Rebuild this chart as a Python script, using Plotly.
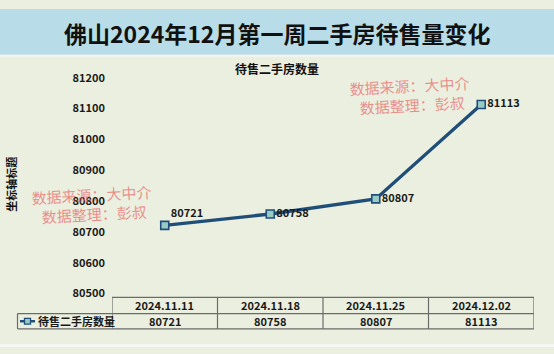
import plotly.graph_objects as go

# ---- data ----
categories = ["2024.11.11", "2024.11.18", "2024.11.25", "2024.12.02"]
values = [80721, 80758, 80807, 81113]
series_name = "待售二手房数量"
main_title = "佛山2024年12月第一周二手房待售量变化"
chart_title = "待售二手房数量"
y_axis_title = "坐标轴标题"
y_ticks = [80500, 80600, 80700, 80800, 80900, 81000, 81100, 81200]
watermark = "数据来源：大中介<br> 数据整理：彭叔"

W, H = 554, 354
CJK = "Noto Sans CJK SC, Noto Sans, sans-serif"
LINE = "#1f4e79"
BG = "#ebefdf"

x0, x1 = 112 / W, 534 / W
ytop, ybot = 72, 298
y_dom = [(H - ybot) / H, (H - ytop) / H]

def py(p):
    return (H - p) / H

fig = go.Figure()
fig.add_trace(go.Scatter(
    x=list(range(len(categories))), y=values,
    mode="lines+markers+text",
    text=[str(v) for v in values],
    textposition=["top right", "middle right", "middle right", "middle right"],
    textfont=dict(family=CJK, size=11, color="#1a1a1a", weight="bold"),
    line=dict(color=LINE, width=3.3),
    marker=dict(symbol="square", size=8, color="#98cbc6",
                line=dict(color=LINE, width=1.6)),
    name=series_name, showlegend=False, cliponaxis=False,
))

shapes = []
# title bar
shapes.append(dict(type="rect", xref="paper", yref="paper", x0=0, x1=1,
                   y0=py(48), y1=1, fillcolor="#b8dde8", line_width=0, layer="below"))
shapes.append(dict(type="rect", xref="paper", yref="paper", x0=0, x1=1,
                   y0=py(50), y1=py(48), fillcolor="#f4f4f4", line_width=0, layer="below"))
# bottom strip
shapes.append(dict(type="rect", xref="paper", yref="paper", x0=0, x1=1,
                   y0=0, y1=py(351), fillcolor="#f7f7f7", line_width=0, layer="below"))

# data table
t_top, t_mid, t_bot = 302, 319, 335
tc = "#6b6b6b"
n = len(categories)
shapes.append(dict(type="line", xref="x", yref="paper", x0=-0.5, x1=n - 0.5,
                   y0=py(t_top), y1=py(t_top), line=dict(color=tc, width=1.2)))
shapes.append(dict(type="line", xref="paper", yref="paper", x0=17.5 / W, x1=x1,
                   y0=py(t_mid), y1=py(t_mid), line=dict(color=tc, width=1.2)))
shapes.append(dict(type="line", xref="paper", yref="paper", x0=17.5 / W, x1=x1,
                   y0=py(t_bot), y1=py(t_bot), line=dict(color=tc, width=1.2)))
for i in range(n + 1):
    shapes.append(dict(type="line", xref="x", yref="paper", x0=i - 0.5, x1=i - 0.5,
                       y0=py(t_bot), y1=py(t_top), line=dict(color=tc, width=1.2)))
shapes.append(dict(type="line", xref="paper", yref="paper", x0=17.5 / W, x1=17.5 / W,
                   y0=py(t_bot), y1=py(t_mid), line=dict(color=tc, width=1.2)))
# legend key
shapes.append(dict(type="line", xref="paper", yref="paper", x0=20 / W, x1=35 / W,
                   y0=py(327), y1=py(327), line=dict(color=LINE, width=2.5)))
shapes.append(dict(type="rect", xref="paper", yref="paper", x0=24.5 / W, x1=30.5 / W,
                   y0=py(330), y1=py(324), fillcolor="#98cbc6", line=dict(color=LINE, width=1.3)))

def A(text, x, y, xref="paper", size=11, xanchor="center", **kw):
    d = dict(text=text, x=x, y=y, xref=xref, yref="paper", showarrow=False,
             xanchor=xanchor, yanchor="middle")
    d.update(kw)
    d.setdefault("font", dict(family=CJK, size=size, color="#1a1a1a", weight="bold"))
    return d

ann = []
ann.append(A(main_title, 0.5, py(25), font=dict(family=CJK, size=23, color="#111111", weight="bold")))
ann.append(A(chart_title, 0.5, py(62), font=dict(family=CJK, size=12, color="#111111", weight="bold")))
ann.append(A(y_axis_title, 11 / W, py(184), textangle=-90,
             font=dict(family=CJK, size=11, color="#111111", weight="bold")))
for i, c in enumerate(categories):
    ann.append(A(c, i, py((t_top + t_mid) / 2), xref="x"))
    ann.append(A(str(values[i]), i, py((t_mid + t_bot) / 2), xref="x"))
ann.append(A(series_name, 36 / W, py(327), xanchor="left"))
for cx, cy in [(92, 205), (410, 91)]:
    ann.append(A(watermark, cx / W, py(cy), textangle=-3, align="center",
                 font=dict(family=CJK, size=15, color="rgba(232,110,110,0.75)")))

fig.update_layout(
    width=W, height=H, autosize=False,
    margin=dict(l=0, r=0, t=0, b=0),
    paper_bgcolor=BG, plot_bgcolor=BG,
    xaxis=dict(domain=[x0, x1], range=[-0.5, n - 0.5], showticklabels=False,
               showgrid=False, zeroline=False, showline=False, fixedrange=True),
    yaxis=dict(domain=y_dom, range=[y_ticks[0], y_ticks[-1]], tickvals=y_ticks,
               tickformat="d", showgrid=False, zeroline=False, showline=False, ticks="",
               ticklabelstandoff=6,
               tickfont=dict(family=CJK, size=11, color="#1a1a1a", weight="bold")),
    shapes=shapes, annotations=ann,
)

fig.write_html("out.html")
